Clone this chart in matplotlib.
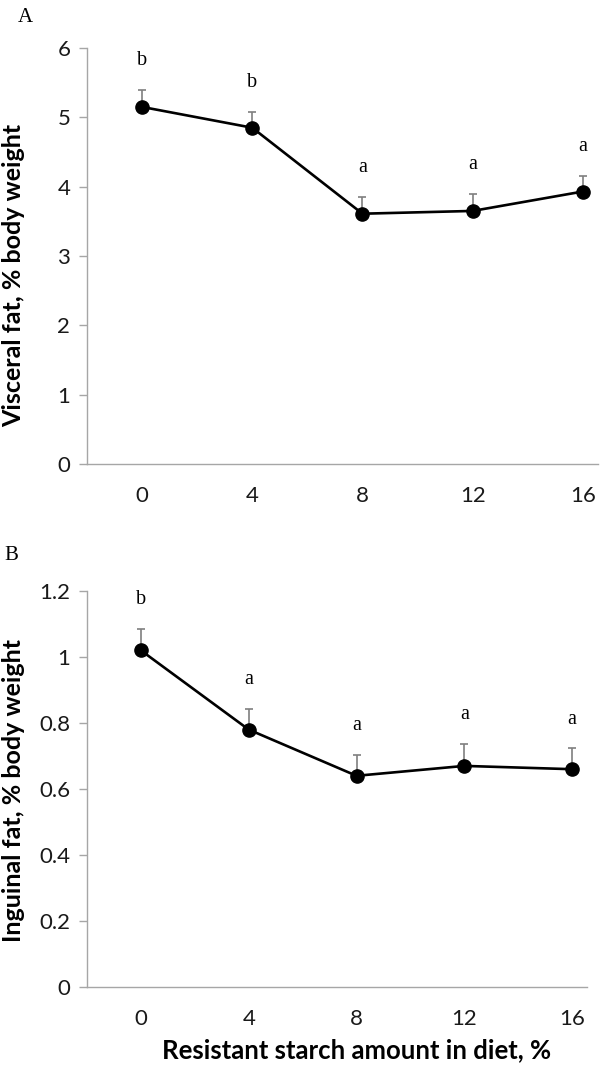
"""
Visceral and inguinal fat vs. resistant starch amount in diet (panels A and B).
"""

import matplotlib.pyplot as plt

# Data
starch_pct = [0, 4, 8, 12, 16]

visceral_mean = [5.15, 4.85, 3.61, 3.65, 3.93]
visceral_err = [0.25, 0.23, 0.24, 0.25, 0.23]
visceral_sig = ['b', 'b', 'a', 'a', 'a']

inguinal_mean = [1.02, 0.78, 0.64, 0.67, 0.66]
inguinal_err = [0.066, 0.062, 0.064, 0.066, 0.063]
inguinal_sig = ['b', 'a', 'a', 'a', 'a']

visceral_ticks = [0, 1, 2, 3, 4, 5, 6]
inguinal_ticks = [0, 0.2, 0.4, 0.6, 0.8, 1.0, 1.2]
inguinal_ticklabels = ['0', '0.2', '0.4', '0.6', '0.8', '1', '1.2']

sans = ['Lato', 'DejaVu Sans']
serif = ['Liberation Serif', 'DejaVu Serif']
axis_gray = '#a6a6a6'

W, H = 600, 1069
fig = plt.figure(figsize=(W / 100, H / 100), dpi=100)


def px_axes(left, top, right, bottom):
    return fig.add_axes([left / W, 1 - bottom / H, (right - left) / W, (bottom - top) / H])


def draw_panel(ax, means, errs, sigs, yticks, yticklabels, ylim, sig_offset):
    ax.plot(starch_pct, means, color='black', lw=1.9, marker='o', ms=9.5, zorder=3)
    ax.errorbar(starch_pct, means, yerr=[[0] * len(errs), errs], fmt='none',
                ecolor='#7f7f7f', elinewidth=1.2, capsize=3, capthick=1.2, zorder=2)
    for x, m, e, s in zip(starch_pct, means, errs, sigs):
        ax.annotate(s, (x, m + e), xytext=(0, sig_offset), textcoords='offset points',
                    ha='center', va='center', fontsize=14.5, family=serif)

    ax.set_xlim(-2, 16.55)
    ax.set_ylim(*ylim)
    ax.set_xticks(starch_pct)
    ax.set_yticks(yticks)
    ax.set_yticklabels(yticklabels)

    for side in ['top', 'right']:
        ax.spines[side].set_visible(False)
    for side in ['left', 'bottom']:
        ax.spines[side].set_color(axis_gray)
        ax.spines[side].set_linewidth(1.0)

    ax.tick_params(axis='y', length=6, width=1.0, color=axis_gray, pad=6,
                   labelsize=16, labelcolor='#1a1a1a')
    ax.tick_params(axis='x', length=0, pad=16, labelsize=16, labelcolor='#1a1a1a')
    for lbl in ax.get_xticklabels() + ax.get_yticklabels():
        lbl.set_family(sans)


# Panel A
ax_a = px_axes(87, 48, 598, 464)
draw_panel(ax_a, visceral_mean, visceral_err, visceral_sig,
           visceral_ticks, [str(t) for t in visceral_ticks], (0, 6), 21)
fig.text(25 / W, 1 - 18 / H, 'A', fontsize=15, family=serif, ha='center', va='center')
fig.text(14 / W, 1 - 275 / H, 'Visceral fat, % body weight', rotation=90,
         fontsize=18, fontweight='bold', family=sans, ha='center', va='center')

# Panel B
ax_b = px_axes(87, 591, 587, 987)
draw_panel(ax_b, inguinal_mean, inguinal_err, inguinal_sig,
           inguinal_ticks, inguinal_ticklabels, (0, 1.2), 21)
fig.text(11 / W, 1 - 555 / H, 'B', fontsize=15, family=serif, ha='center', va='center')
fig.text(14 / W, 1 - 790 / H, 'Inguinal fat, % body weight', rotation=90,
         fontsize=18, fontweight='bold', family=sans, ha='center', va='center')
fig.text(357 / W, 1 - 1050 / H, 'Resistant starch amount in diet, %',
         fontsize=18.5, fontweight='bold', family=sans, ha='center', va='center')

fig.savefig('out.png', dpi=100)
